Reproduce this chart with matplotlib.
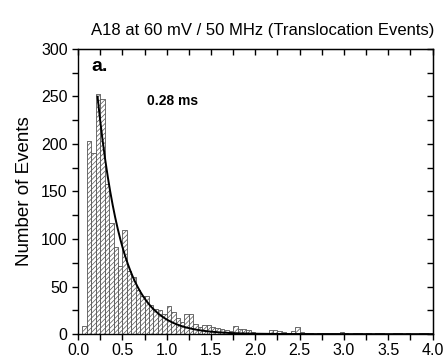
import matplotlib
matplotlib.use("Agg")
import matplotlib.pyplot as plt
import numpy as np
from matplotlib.ticker import MultipleLocator, FormatStrFormatter

plt.rcParams["font.family"] = ["Liberation Sans", "DejaVu Sans"]
plt.rcParams["hatch.linewidth"] = 0.5

# histogram of dwell times, bin width 0.05 ms, left edges from 0.0
bin_width = 0.05
counts = [0, 9, 203, 190, 253, 247, 158, 117, 92, 72,
          109, 66, 60, 46, 40, 40, 31, 26, 25, 21,
          30, 23, 17, 13, 21, 21, 11, 7, 10, 10,
          7, 6, 5, 4, 3, 9, 5, 5, 4, 2,
          1, 1, 1, 4, 4, 3, 2, 1, 3, 7,
          2, 1, 1, 0, 1, 1, 1, 1, 1, 2,
          1, 0, 1, 1, 0, 1, 0, 1, 1, 0,
          0, 1, 1, 0, 1, 0, 0, 1, 1, 0]
edges = np.arange(len(counts)) * bin_width

# exponential fit
fit_amp = 548
fit_tau = 0.28
fit_start = 0.22
fit_end = 4.0

fig = plt.figure(figsize=(4.46, 3.62), dpi=100)
ax = fig.add_axes([0.175, 0.077, 0.795, 0.788])

ax.bar(edges, counts, width=bin_width, align="edge", color="white",
       edgecolor="#555555", linewidth=0.6, hatch="///////")

xf = np.linspace(fit_start, fit_end, 400)
ax.plot(xf, fit_amp * np.exp(-xf / fit_tau), color="black", lw=1.4)

ax.set_xlim(0, 4.0)
ax.set_ylim(0, 300)
ax.xaxis.set_major_locator(MultipleLocator(0.5))
ax.xaxis.set_minor_locator(MultipleLocator(0.25))
ax.xaxis.set_major_formatter(FormatStrFormatter("%.1f"))
ax.yaxis.set_major_locator(MultipleLocator(50))
ax.yaxis.set_minor_locator(MultipleLocator(25))
ax.tick_params(which="both", direction="out", length=4.5, width=1, labelsize=11.5)
ax.tick_params(axis="y", pad=3)
ax.tick_params(axis="x", pad=2)
for sp in ax.spines.values():
    sp.set_linewidth(1)

# inward ticks on top and right
top = ax.secondary_xaxis("top")
top.xaxis.set_major_locator(MultipleLocator(0.25))
top.tick_params(direction="in", length=4, width=1, labeltop=False)
right = ax.secondary_yaxis("right")
right.yaxis.set_major_locator(MultipleLocator(25))
right.tick_params(direction="in", length=4, width=1, labelright=False)

ax.set_ylabel("Number of Events", fontsize=13.5, labelpad=6)
ax.set_title("A18 at 60 mV / 50 MHz (Translocation Events)", fontsize=12, pad=10, x=0.52)

ax.text(0.145, 281, "a.", fontsize=14, fontweight="bold", va="center")
ax.text(0.78, 245, "0.28 ms", fontsize=10, fontweight="bold", va="center")

fig.savefig("out.png", dpi=100)
